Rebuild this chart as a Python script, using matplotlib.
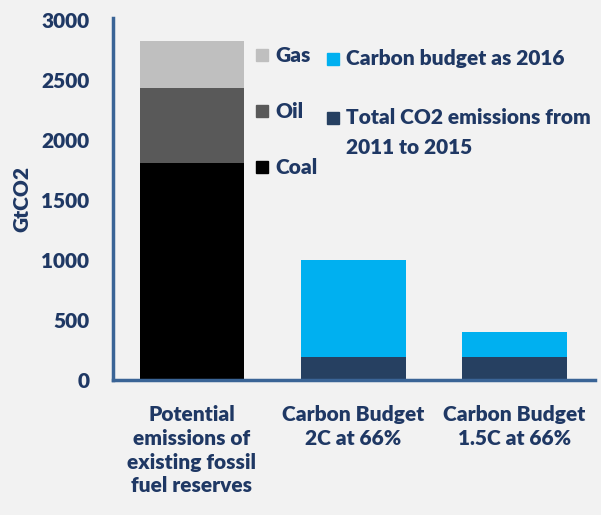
import matplotlib.pyplot as plt
from matplotlib.patches import Rectangle

# data (GtCO2)
categories = ['Potential\nemissions of\nexisting fossil\nfuel reserves',
              'Carbon Budget\n2C at 66%',
              'Carbon Budget\n1.5C at 66%']
coal = [1810, 0, 0]
oil = [620, 0, 0]
gas = [390, 0, 0]
emitted_2011_2015 = [0, 190, 190]
budget_2016 = [0, 810, 210]

txt = '#1f3864'
bg = '#f2f2f2'
plt.rcParams['font.family'] = ['Lato', 'DejaVu Sans']
plt.rcParams['font.weight'] = 'heavy'
plt.rcParams['axes.labelweight'] = 'heavy'

fig = plt.figure(figsize=(6.01, 5.15), dpi=100, facecolor=bg)
ax = fig.add_axes([0.188, 0.262, 0.802, 0.703], facecolor=bg)

x = range(len(categories))
w = 0.65
ax.bar(x, coal, w, color='#000000')
ax.bar(x, oil, w, bottom=coal, color='#595959')
bot = [c + o for c, o in zip(coal, oil)]
ax.bar(x, gas, w, bottom=bot, color='#bfbfbf')
ax.bar(x, emitted_2011_2015, w, color='#264061')
ax.bar(x, budget_2016, w, bottom=emitted_2011_2015, color='#00b0f0')

ax.set_xlim(-0.49, 2.5)
ax.set_ylim(0, 3015)
ax.set_yticks([0, 500, 1000, 1500, 2000, 2500, 3000])
ax.set_xticks(list(x))
ax.set_xticklabels(categories, fontsize=15, color=txt, linespacing=1.3)
ax.tick_params(axis='y', labelsize=15, labelcolor=txt, length=0, pad=17)
ax.tick_params(axis='x', length=0, pad=18)
ax.set_ylabel('GtCO2', fontsize=15, color=txt, labelpad=7)
for s in ['top', 'right']:
    ax.spines[s].set_visible(False)
for s in ['left', 'bottom']:
    ax.spines[s].set_color('#3a6496')
    ax.spines[s].set_linewidth(2.5)

# legend drawn by hand (the multi-line entry has its marker on the first line)
def entry(xp, yp, color, label):
    fig.patches.append(Rectangle((xp / 601, 1 - (yp + 6) / 515), 12 / 601, 12 / 515,
                                 transform=fig.transFigure, color=color))
    fig.text((xp + 19) / 601, 1 - yp / 515, label, fontsize=15, color=txt,
             va='center', ha='left')

entry(256, 55, '#bfbfbf', 'Gas')
entry(256, 111, '#595959', 'Oil')
entry(256, 167, '#000000', 'Coal')
entry(327, 59, '#00b0f0', 'Carbon budget as 2016')
entry(327, 118, '#264061', 'Total CO2 emissions from')
fig.text((327 + 19) / 601, 1 - 148 / 515, '2011 to 2015', fontsize=15, color=txt,
         va='center', ha='left')

fig.savefig('out.png', dpi=100, facecolor=bg)
